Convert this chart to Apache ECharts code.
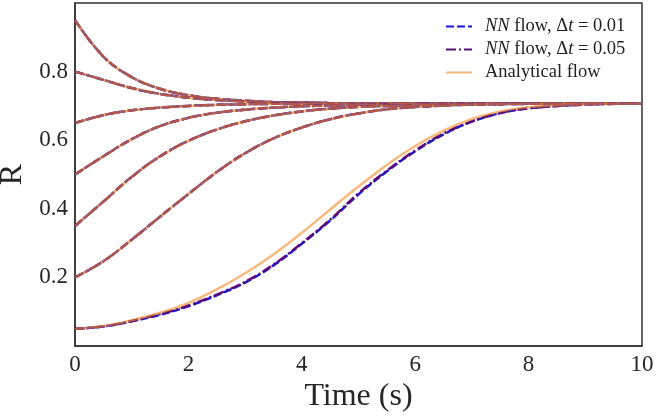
<!DOCTYPE html>
<html><head><meta charset="utf-8">
<script src="https://cdn.jsdelivr.net/npm/echarts@6/dist/echarts.min.js"></script>
<style>html,body{margin:0;padding:0;background:#fff}#c{width:656px;height:417px}</style>
</head><body><div id="c"></div>
<script>
// time grid (s)
const times = [0,0.5,1,1.5,2,2.5,3,3.5,4,4.5,5,5.5,6,6.5,7,7.5,8,9,10];
// analytical flow curves, one per initial value
const analytic095 = [0.95,0.844,0.784,0.750,0.731,0.721,0.715,0.711,0.7095,0.708,0.7075,0.707,0.707,0.707,0.707,0.707,0.707,0.707,0.707];
const analytic080 = [0.80,0.776,0.752,0.735,0.724,0.717,0.713,0.710,0.709,0.708,0.7075,0.707,0.707,0.707,0.707,0.707,0.707,0.707,0.707];
const analytic065 = [0.65,0.673,0.687,0.695,0.700,0.703,0.705,0.706,0.7065,0.707,0.707,0.707,0.707,0.707,0.707,0.707,0.707,0.707,0.707];
const analytic050 = [0.50,0.553,0.603,0.641,0.665,0.680,0.689,0.695,0.699,0.701,0.703,0.704,0.705,0.706,0.7065,0.707,0.707,0.707,0.707];
const analytic035 = [0.35,0.421,0.493,0.553,0.598,0.631,0.655,0.672,0.684,0.692,0.697,0.700,0.702,0.704,0.705,0.706,0.706,0.707,0.707];
const analytic020 = [0.20,0.247,0.310,0.377,0.443,0.507,0.562,0.605,0.637,0.661,0.678,0.690,0.697,0.701,0.704,0.705,0.706,0.707,0.707];
const analytic005 = [0.05,0.058,0.075,0.097,0.126,0.165,0.212,0.267,0.330,0.398,0.465,0.528,0.583,0.628,0.662,0.684,0.696,0.705,0.707];
// NN flow curves (Δt = 0.01 and Δt = 0.05); upper six coincide with analytical
const nn001_005 = [0.05,0.057,0.072,0.091,0.116,0.148,0.185,0.235,0.298,0.366,0.442,0.509,0.568,0.617,0.654,0.679,0.693,0.704,0.707];
const nn005_005 = [0.05,0.057,0.073,0.093,0.118,0.150,0.187,0.237,0.300,0.368,0.445,0.511,0.570,0.619,0.655,0.679,0.693,0.704,0.707];
const nn001 = [analytic095, analytic080, analytic065, analytic050, analytic035, analytic020, nn001_005];
const nn005 = [analytic095, analytic080, analytic065, analytic050, analytic035, analytic020, nn005_005];
const analytic = [analytic095, analytic080, analytic065, analytic050, analytic035, analytic020, analytic005];
const seriesNames = ['NN flow, Δt = 0.01', 'NN flow, Δt = 0.05', 'Analytical flow'];
const xTicks = [0,2,4,6,8,10];
const yTicks = [0.2,0.4,0.6,0.8];

const FONT = "'Liberation Serif', 'DejaVu Serif', serif";
const pair = vals => times.map((t, i) => [t, vals[i]]);

const styles = [
  {color:'#1616d6', width:2.5, type:[8,3]},
  {color:'#5b0c78', width:2.5, type:[10,3,2,3]},
  {color:'#f28b26', width:2.5, type:'solid', opacity:0.6}
];
const groups = [nn001, nn005, analytic];
const series = [];
// draw per initial condition: NN Δt=0.01, NN Δt=0.05, then analytical on top
analytic.forEach((_, ci) => {
  groups.forEach((grp, gi) => {
    series.push({
      name: seriesNames[gi], type:'line', data: pair(grp[ci]), smooth:0.4,
      symbol:'none', showSymbol:false, lineStyle: styles[gi], itemStyle:{color: styles[gi].color},
      emphasis:{disabled:true}, animation:false, z: 2
    });
  });
});

const chart = echarts.init(document.getElementById('c'), null, {renderer:'canvas'});
chart.setOption({
  backgroundColor:'#fff',
  animation:false,
  grid:{left:75, right:14, top:3, bottom:71, containLabel:false, outerBoundsMode:'none',
        show:true, borderColor:'#333', borderWidth:1.5, backgroundColor:'transparent'},
  legend:{
    data: seriesNames, orient:'vertical', left:440, top:12, itemGap:4,
    itemWidth:26, itemHeight:17,
    itemStyle:{opacity:0},
    formatter: n => n.replace(/^NN/, '{i|NN}').replace('Δt', 'Δ{i|t}'),
    textStyle:{fontFamily:FONT, fontSize:18.5, color:'#222', padding:[0,0,0,8],
      rich:{i:{fontStyle:'italic', fontFamily:FONT, fontSize:18.5, color:'#222'}}}
  },
  xAxis:{
    type:'value', min:xTicks[0], max:xTicks[xTicks.length-1], interval:2,
    axisLine:{show:true, lineStyle:{color:'#333', width:1.5}}, axisTick:{show:false}, splitLine:{show:false},
    axisLabel:{fontFamily:FONT, fontSize:23, color:'#262626', margin:7},
    name:'Time (s)', nameLocation:'middle', nameGap:31,
    nameTextStyle:{fontFamily:FONT, fontSize:32, color:'#262626'}
  },
  yAxis:{
    type:'value', min:0, max:1, interval:0.2,
    axisLine:{show:true, lineStyle:{color:'#333', width:1.5}}, axisTick:{show:false}, splitLine:{show:false},
    axisLabel:{fontFamily:FONT, fontSize:23, color:'#262626', margin:7,
      formatter: v => yTicks.some(t => Math.abs(t - v) < 1e-9) ? v.toFixed(1) : ''},
    name:'R', nameLocation:'middle', nameGap:38,
    nameTextStyle:{fontFamily:FONT, fontSize:32, color:'#262626'}
  },
  series: series
});
</script></body></html>
